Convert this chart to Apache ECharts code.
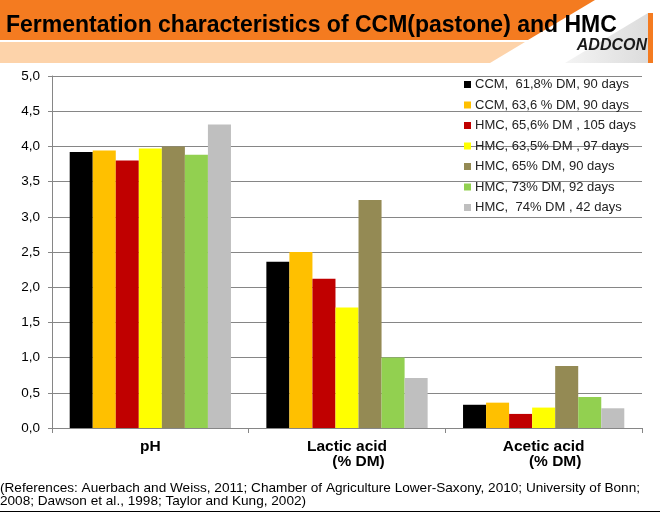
<!DOCTYPE html>
<html>
<head>
<meta charset="utf-8">
<script src="https://cdn.jsdelivr.net/npm/echarts@6/dist/echarts.min.js"></script>
<style>
  html, body { margin: 0; padding: 0; background: #fff; }
  #chart { width: 660px; height: 513px; }
</style>
</head>
<body>
<div id="chart"></div>
<script>
// categories on the x axis, second line is the unit
var categories = ['pH', 'Lactic acid', 'Acetic acid']
var units = ['', '(% DM)', '(% DM)']

// one array per silage sample: pH, lactic acid, acetic acid
var ccm618 = [3.92, 2.36, 0.33]
var ccm636 = [3.94, 2.50, 0.36]
var hmc656 = [3.80, 2.12, 0.20]
var hmc635 = [3.97, 1.71, 0.29]
var hmc65 = [4.00, 3.24, 0.88]
var hmc73 = [3.88, 1.00, 0.44]
var hmc74 = [4.31, 0.71, 0.28]

var seriesNames = [
    'CCM,  61,8% DM, 90 days',
    'CCM, 63,6 % DM, 90 days',
    'HMC, 65,6% DM , 105 days',
    'HMC, 63,5% DM , 97 days',
    'HMC, 65% DM, 90 days',
    'HMC, 73% DM, 92 days',
    'HMC,  74% DM , 42 days'
]
var seriesData = [ccm618, ccm636, hmc656, hmc635, hmc65, hmc73, hmc74]
var colors = ['#000000', '#FFC000', '#C00000', '#FFFF00', '#948A54', '#92D050', '#BFBFBF']

var titleText = 'Fermentation characteristics of CCM(pastone) and HMC'
var footText = '(References: Auerbach and Weiss, 2011; Chamber of Agriculture Lower-Saxony, 2010; University of Bonn;\n2008; Dawson et al., 1998; Taylor and Kung, 2002)'

var font = 'Arial, "Liberation Sans", sans-serif'
var orange = '#F47B20'

var chart = echarts.init(document.getElementById('chart'))

var series = seriesData.map(function (d, i) {
    return {
        name: seriesNames[i],
        type: 'bar',
        data: d,
        barGap: '0%',
        barCategoryGap: '18%',
        itemStyle: { color: colors[i] }
    }
})

var option = {
    animation: false,
    textStyle: { fontFamily: font },
    grid: { left: 52, right: 18, top: 76, bottom: 85 },
    legend: {
        orient: 'vertical',
        left: 464,
        top: 78,
        padding: 0,
        itemWidth: 7,
        itemHeight: 7,
        itemGap: 7.5,
        icon: 'rect',
        textStyle: { fontSize: 13, color: '#222', fontFamily: font, padding: [0, 0, 0, -1] },
        data: seriesNames
    },
    xAxis: {
        type: 'category',
        data: categories,
        axisLine: { lineStyle: { color: '#868686' } },
        axisTick: { show: true, length: 5, lineStyle: { color: '#868686' } },
        axisLabel: {
            margin: 11,
            interval: 0,
            formatter: function (v, idx) {
                var u = units[idx]
                return u ? '{a|' + v + '}\n{b|' + u + '}' : '{a|' + v + '}'
            },
            rich: {
                a: { fontSize: 15.5, fontWeight: 'bold', color: '#000', lineHeight: 15, fontFamily: font },
                b: { fontSize: 15.5, fontWeight: 'bold', color: '#000', lineHeight: 15, padding: [0, 0, 0, 23], fontFamily: font }
            }
        }
    },
    yAxis: {
        type: 'value',
        min: 0,
        max: 5,
        interval: 0.5,
        axisLine: { show: true, lineStyle: { color: '#868686' } },
        axisTick: { show: true, length: 4, lineStyle: { color: '#868686' } },
        axisLabel: {
            margin: 12,
            fontSize: 13.5,
            color: '#000',
            formatter: function (v) { return v.toFixed(1).replace('.', ',') }
        },
        splitLine: { lineStyle: { color: '#868686', width: 1 } }
    },
    graphic: [
        // header bands
        { type: 'polygon', shape: { points: [[0, 0], [595, 0], [528, 40], [0, 40]] }, style: { fill: orange }, z: -1 },
        { type: 'polygon', shape: { points: [[0, 42], [525, 42], [490, 63], [0, 63]] }, style: { fill: '#FDD3AA' }, z: -1 },
        {
            type: 'polygon', shape: { points: [[648, 13], [648, 63], [565, 63]] }, z: -1,
            style: { fill: new echarts.graphic.LinearGradient(0, 0, 1, 0, [{ offset: 0, color: '#F4F4F4' }, { offset: 1, color: '#DCDCDC' }]) }
        },
        { type: 'rect', shape: { x: 648, y: 13, width: 5, height: 50 }, style: { fill: orange }, z: -1 },
        {
            type: 'text', x: 6, y: 25.5,
            style: { text: titleText, fill: '#000', font: 'bold 23px ' + font, verticalAlign: 'middle' }
        },
        {
            type: 'text', x: 647, y: 45.5,
            style: { text: 'ADDCON', fill: '#1a1a1a', font: 'italic bold 16px ' + font, align: 'right', verticalAlign: 'middle' }
        },
        // references
        {
            type: 'text', x: 0, y: 482,
            style: { text: footText, fill: '#000', font: '13.6px ' + font, lineHeight: 13 }
        },
        { type: 'line', shape: { x1: 0, y1: 511.5, x2: 660, y2: 511.5 }, style: { stroke: '#000', lineWidth: 1 } }
    ],
    series: series
}

chart.setOption(option)
</script>
</body>
</html>
